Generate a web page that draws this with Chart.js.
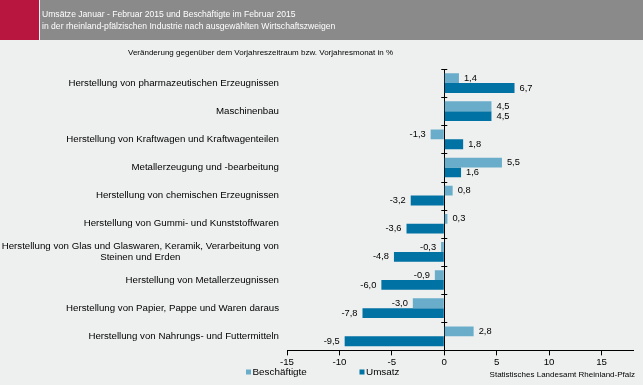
<!DOCTYPE html>
<html>
<head>
<meta charset="utf-8">
<script src="https://cdn.jsdelivr.net/npm/chart.js@4.4.0/dist/chart.umd.min.js"></script>
<style>
html, body { margin: 0; padding: 0; background: #eef0ef; }
#wrap { position: relative; width: 643px; height: 385px; overflow: hidden; font-family: "Liberation Sans", Arial, sans-serif; }
#head { position: absolute; left: 0; top: 0; width: 643px; height: 40px; background: #8a8a8a; }
#mark { position: absolute; left: 0; top: 0; width: 39px; height: 40px; background: #b8163e; border-right: 1px solid #f2f2f2; }
#title { position: absolute; left: 42px; top: 8px; color: #fff; font-size: 8.6px; line-height: 12px; white-space: nowrap; }
#sub { position: absolute; left: 128px; top: 47px; font-size: 8px; line-height: 12px; color: #000; white-space: nowrap; }
#src { position: absolute; right: 8px; top: 369px; font-size: 8px; line-height: 12px; color: #000; white-space: nowrap; }
#chart { position: absolute; left: 0; top: 0; }
</style>
</head>
<body>
<div id="wrap">
  <canvas id="chart" width="643" height="385"></canvas>
  <div id="head"><div id="mark"></div>
    <div id="title">Umsätze Januar - Februar 2015 und Beschäftigte im Februar 2015<br>in der rheinland-pfälzischen Industrie nach ausgewählten Wirtschaftszweigen</div>
  </div>
  <div id="sub">Veränderung gegenüber dem Vorjahreszeitraum bzw. Vorjahresmonat in %</div>
  <div id="src">Statistisches Landesamt Rheinland-Pfalz</div>
</div>
<script>
const categories = [
  'Herstellung von pharmazeutischen Erzeugnissen',
  'Maschinenbau',
  'Herstellung von Kraftwagen und Kraftwagenteilen',
  'Metallerzeugung und -bearbeitung',
  'Herstellung von chemischen Erzeugnissen',
  'Herstellung von Gummi- und Kunststoffwaren',
  ['Herstellung von Glas und Glaswaren, Keramik, Verarbeitung von', 'Steinen und Erden'],
  'Herstellung von Metallerzeugnissen',
  'Herstellung von Papier, Pappe und Waren daraus',
  'Herstellung von Nahrungs- und Futtermitteln'
];
const beschaeftigte = [1.4, 4.5, -1.3, 5.5, 0.8, 0.3, -0.3, -0.9, -3.0, 2.8];
const umsatz = [6.7, 4.5, 1.8, 1.6, -3.2, -3.6, -4.8, -6.0, -7.8, -9.5];
const seriesNames = ['Beschäftigte', 'Umsatz'];
const seriesColors = ['#6aadcb', '#0072a3'];
const xMin = -15, xMax = 18, xStep = 5;

const FONT = '"Liberation Sans", Arial, sans-serif';

const extras = {
  id: 'extras',
  afterDatasetsDraw(chart) {
    const ctx = chart.ctx;
    const xs = chart.scales.x, ys = chart.scales.y;
    const x0 = xs.getPixelForValue(0);
    ctx.save();
    // tick marks on the zero line between categories
    ctx.strokeStyle = '#000';
    ctx.lineWidth = 1;
    for (let i = 0; i < categories.length; i++) {
      const py = Math.round(ys.getPixelForValue(i - 0.5)) + 0.5;
      ctx.beginPath();
      ctx.moveTo(x0 - 3, py);
      ctx.lineTo(x0 + 3, py);
      ctx.stroke();
    }
    // value labels
    ctx.fillStyle = '#000';
    ctx.textBaseline = 'middle';
    ctx.font = '9.3px ' + FONT;
    chart.data.datasets.forEach((ds, di) => {
      chart.getDatasetMeta(di).data.forEach((bar, i) => {
        const v = ds.data[i];
        const txt = v.toFixed(1).replace('.', ',');
        if (v >= 0) {
          ctx.textAlign = 'left';
          ctx.fillText(txt, bar.x + 5, bar.y);
        } else {
          ctx.textAlign = 'right';
          ctx.fillText(txt, bar.x - 5, bar.y);
        }
      });
    });
    // category labels, right aligned, multi-line centred
    ctx.font = '9.7px ' + FONT;
    ctx.textAlign = 'center';
    const right = chart.chartArea.left - 8;
    categories.forEach((lab, i) => {
      const lines = Array.isArray(lab) ? lab : [lab];
      const w = Math.max(...lines.map(l => ctx.measureText(l).width));
      const cy = ys.getPixelForValue(i);
      lines.forEach((l, k) => {
        ctx.fillText(l, right - w / 2, cy + (k - (lines.length - 1) / 2) * 11);
      });
    });
    // legend
    ctx.font = '9.9px ' + FONT;
    ctx.textAlign = 'left';
    const legX = [246, 359.5];
    seriesNames.forEach((n, k) => {
      ctx.fillStyle = seriesColors[k];
      ctx.fillRect(legX[k], 369.5, 5, 5);
      ctx.fillStyle = '#000';
      ctx.fillText(n, legX[k] + 6.5, 372);
    });
    ctx.restore();
  }
};

new Chart(document.getElementById('chart'), {
  type: 'bar',
  data: {
    labels: categories,
    datasets: [
      { label: seriesNames[0], data: beschaeftigte, backgroundColor: seriesColors[0] },
      { label: seriesNames[1], data: umsatz, backgroundColor: seriesColors[1] }
    ]
  },
  options: {
    indexAxis: 'y',
    responsive: false,
    animation: false,
    datasets: { bar: { categoryPercentage: 0.7, barPercentage: 1.0 } },
    layout: { padding: { left: 287, right: 10, top: 69, bottom: 16 } },
    scales: {
      y: { display: false, offset: true },
      x: {
        min: xMin, max: xMax,
        ticks: { stepSize: xStep, includeBounds: false, color: '#000', font: { family: FONT, size: 9.7 }, padding: 1 },
        grid: {
          color: c => (c.tick && c.tick.value === 0) ? '#000' : 'rgba(0,0,0,0)',
          tickColor: '#000', tickLength: 5, lineWidth: 1
        },
        border: { color: '#000', width: 1 }
      }
    },
    plugins: { legend: { display: false }, tooltip: { enabled: false } }
  },
  plugins: [extras]
});
</script>
</body>
</html>
